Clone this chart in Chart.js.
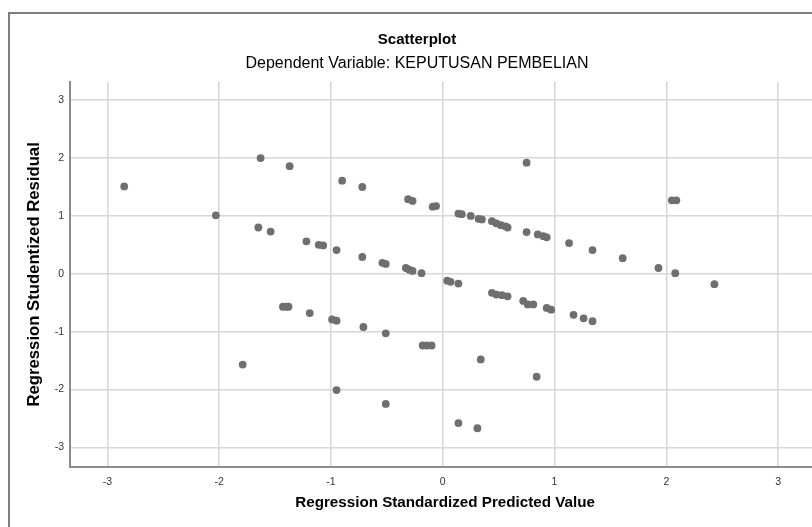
<!DOCTYPE html>
<html>
<head>
<meta charset="utf-8">
<title>Scatterplot</title>
<script src="https://cdn.jsdelivr.net/npm/chart.js@4.4.0/dist/chart.umd.min.js"></script>
<style>
  html, body { margin: 0; padding: 0; background: #fff; overflow: hidden; }
  .frame {
    position: absolute;
    left: 8px;
    top: 12px;
    width: 814px;
    height: 530px;
    border: 2px solid #7f7f7f;
  }
  #chart { display: block; }
</style>
</head>
<body>
<div class="frame">
  <canvas id="chart" width="814" height="516"></canvas>
</div>
<script>
// Regression Standardized Predicted Value (x) and Regression Studentized Residual (y)
const predicted = [
  -2.85, -2.03, -1.63, -1.37, -0.90, -0.72, -0.31, -0.27, -0.09, -0.06,
   0.14,  0.17,  0.25,  0.32,  0.35,  0.44,  0.48,  0.52,  0.56,  0.58,
   0.75,  0.75,  0.85,  0.90,  0.93,  1.13,  1.34,  1.61,  1.93,  2.05,
   2.09,  2.08,  2.43,
  -1.65, -1.54, -1.22, -1.11, -1.07, -0.95, -0.72, -0.54, -0.51, -0.33,
  -0.30, -0.27, -0.19,  0.04,  0.07,  0.14,  0.44,  0.48,  0.53,  0.58,
   0.72,  0.76,  0.81,  0.93,  0.97,  1.17,  1.26,  1.34,
  -1.43, -1.40, -1.38, -1.19, -0.99, -0.95, -0.71, -0.51, -0.18, -0.14,
  -0.10,  0.34,  0.84, -1.79, -0.95, -0.51,  0.14,  0.31
];
const residual = [
   1.51,  1.01,  2.00,  1.86,  1.61,  1.50,  1.29,  1.26,  1.16,  1.17,
   1.04,  1.03,  1.00,  0.95,  0.94,  0.91,  0.87,  0.84,  0.82,  0.80,
   1.92,  0.72,  0.68,  0.65,  0.63,  0.53,  0.41,  0.27,  0.10,  1.27,
   1.27,  0.01, -0.18,
   0.80,  0.73,  0.56,  0.50,  0.49,  0.41,  0.29,  0.19,  0.17,  0.10,
   0.07,  0.05,  0.01, -0.12, -0.14, -0.17, -0.33, -0.36, -0.37, -0.39,
  -0.47, -0.53, -0.53, -0.59, -0.62, -0.71, -0.77, -0.82,
  -0.57, -0.57, -0.57, -0.68, -0.79, -0.81, -0.92, -1.03, -1.24, -1.24,
  -1.24, -1.48, -1.78, -1.57, -2.01, -2.25, -2.58, -2.67
];

const titleText = 'Scatterplot';
const subtitleText = 'Dependent Variable: KEPUTUSAN PEMBELIAN';
const xTitle = 'Regression Standardized Predicted Value';
const yTitle = 'Regression Studentized Residual';

const points = predicted.map((x, i) => ({ x: x, y: residual[i] }));

const fontFamily = '"Liberation Sans", Arial, sans-serif';
const gridColor = '#d6d6d6';
const axisColor = '#8c8c8c';

new Chart(document.getElementById('chart'), {
  type: 'scatter',
  data: {
    datasets: [{
      data: points,
      pointRadius: 3.9,
      pointHoverRadius: 3.9,
      backgroundColor: '#6f6f6f',
      borderWidth: 0
    }]
  },
  options: {
    responsive: false,
    animation: false,
    devicePixelRatio: 1,
    layout: { padding: 0 },
    plugins: {
      legend: { display: false },
      tooltip: { enabled: false },
      title: {
        display: true,
        text: titleText,
        color: '#000',
        font: { family: fontFamily, size: 15, weight: 'bold' },
        padding: { top: 16.5, bottom: 5.9 }
      },
      subtitle: {
        display: true,
        text: subtitleText,
        color: '#000',
        font: { family: fontFamily, size: 16, weight: 'normal' },
        padding: { top: 0, bottom: 8.1 }
      }
    },
    scales: {
      x: {
        type: 'linear',
        min: -3.335,
        max: 3.376,
        afterFit: s => { s.height = 63; },
        ticks: {
          stepSize: 1,
          includeBounds: false,
          color: '#333',
          padding: 8.4,
          font: { family: fontFamily, size: 10.5 }
        },
        grid: { color: gridColor, lineWidth: 1.5, drawTicks: false },
        border: { display: true, color: axisColor, width: 2 },
        title: {
          display: true,
          text: xTitle,
          color: '#000',
          font: { family: fontFamily, size: 15.2, weight: 'bold' },
          padding: { top: 0, bottom: 18.4 }
        }
      },
      y: {
        type: 'linear',
        min: -3.34,
        max: 3.32,
        afterFit: s => { s.width = 60; },
        ticks: {
          stepSize: 1,
          includeBounds: false,
          color: '#333',
          padding: 6,
          font: { family: fontFamily, size: 10.5 }
        },
        grid: { color: gridColor, lineWidth: 1.5, drawTicks: false },
        border: { display: true, color: axisColor, width: 2 },
        title: {
          display: true,
          text: yTitle,
          color: '#000',
          font: { family: fontFamily, size: 16.7, weight: 'bold' },
          padding: { top: 14, bottom: 0 }
        }
      }
    }
  }
});
</script>
</body>
</html>
